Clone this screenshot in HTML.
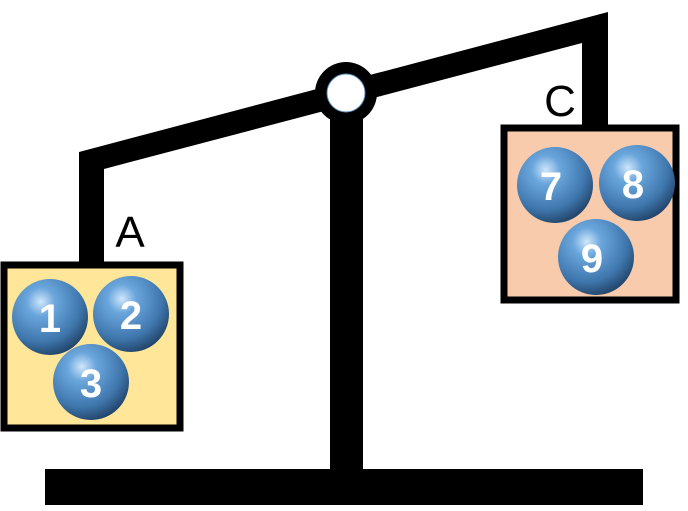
<!DOCTYPE html>
<html><head><style>
body{margin:0;background:#fff;}
svg{display:block}
text{font-family:"Liberation Sans",sans-serif;}
</style></head><body>
<svg width="688" height="511" viewBox="0 0 688 511">
<defs>
<radialGradient id="b" cx="0.38" cy="0.3" r="0.75">
<stop offset="0" stop-color="#cfe6fb"/>
<stop offset="0.25" stop-color="#6aa6dc"/>
<stop offset="0.7" stop-color="#3f77ad"/>
<stop offset="1" stop-color="#1f3f63"/>
</radialGradient>
</defs>
<rect x="45" y="469" width="598" height="36" fill="#000"/>
<rect x="330" y="95" width="33" height="376" fill="#000"/>
<polygon points="79,152 608,12 608,125 582,125 582,43 104,169 104,262 79,262" fill="#000"/>
<circle cx="346" cy="93" r="31" fill="#000"/>
<circle cx="346" cy="93" r="19" fill="#fff" stroke="#5a8fc0" stroke-width="1"/>
<rect x="4" y="265" width="176" height="163" fill="#FFE699" stroke="#000" stroke-width="7"/>
<rect x="504" y="128" width="172" height="172" fill="#F8CBAD" stroke="#000" stroke-width="7"/>
<text x="130" y="247" font-size="44" text-anchor="middle">A</text>
<text x="560" y="116" font-size="44" text-anchor="middle">C</text>
<g font-size="40" font-weight="bold" fill="#fff" text-anchor="middle">
<circle cx="50" cy="317" r="38" fill="url(#b)"/><text x="50" y="332">1</text>
<circle cx="131" cy="314" r="38" fill="url(#b)"/><text x="131" y="329">2</text>
<circle cx="91" cy="382" r="38" fill="url(#b)"/><text x="91" y="397">3</text>
<circle cx="555" cy="185" r="38" fill="url(#b)"/><text x="551" y="200">7</text>
<circle cx="637" cy="183" r="38" fill="url(#b)"/><text x="633" y="198">8</text>
<circle cx="596" cy="257" r="38" fill="url(#b)"/><text x="592" y="272">9</text>
</g>
</svg>
</body></html>
